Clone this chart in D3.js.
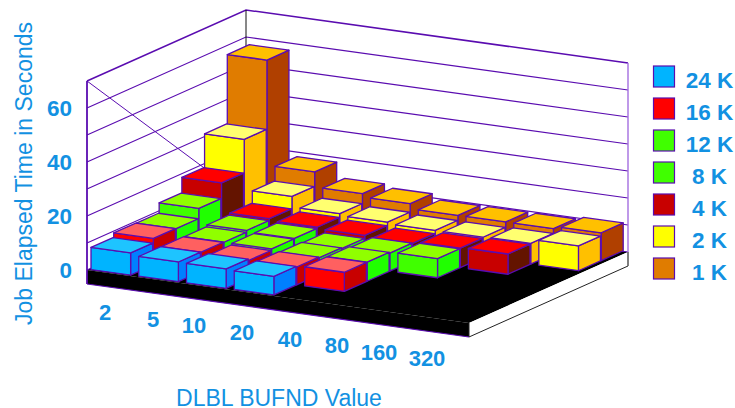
<!DOCTYPE html>
<html>
<head>
<meta charset="utf-8">
<script src="https://cdn.jsdelivr.net/npm/d3@7/dist/d3.min.js"></script>
<style>
html,body{margin:0;padding:0;background:#fff}
svg{display:block}
text{font-family:"Liberation Sans",Arial,sans-serif;fill:#1291e2}
</style>
</head>
<body>
<svg id="chart" width="735" height="408"></svg>
<script>
// Job elapsed time by DLBL BUFND value and buffer size
const bufndValues = ["2","5","10","20","40","80","160","320"];
const bufferSizes = ["24 K","16 K","12 K","8 K","4 K","2 K","1 K"];
const values24k = [7.7,6.8,6.7,6.4,null,null,null,null];
const values16k = [9.3,6.7,6.1,6.1,6.6,null,null,null];
const values12k = [9.2,6.6,6.6,5.8,6.6,null,null,null];
const values8k  = [12.9,7.2,6.7,5.5,6.2,6.6,null,null];
const values4k  = [18.6,7.8,7.1,6.5,6.0,6.7,7.0,null];
const values2k  = [31,12.3,8.4,7.7,7.1,7.0,7.2,8.7];
const values1k  = [56.6,17.6,12,10.8,8.9,8.9,8.9,9.8];
const seriesValues = [values24k,values16k,values12k,values8k,values4k,values2k,values1k];
const timeTicks = [0,20,40,60];
const gridTicks = [0,10,20,30,40,50,60,70];

const frontColors = ["#00b4ff","#ff0000","#40ff00","#40ff00","#c80000","#ffff00","#e07c00"];
const topColors   = ["#1ec4ff","#ff6060","#90ff00","#90ff00","#ff0000","#ffff70","#ffc000"];
const sideColors  = ["#0080ff","#c80000","#20ff00","#20ff00","#641400","#ffc000","#b04000"];
const edge = "#5a0cb0";

const svg = d3.select("#chart");

// Oblique projection: column axis, row axis and height axis are each linear on screen
const uX = d3.scaleLinear().domain([0,8]).range([0,382]);
const uY = d3.scaleLinear().domain([0,8]).range([0,53]);
const vX = d3.scaleLinear().domain([0,7]).range([0,159]);
const vY = d3.scaleLinear().domain([0,7]).range([0,-71]);
const zY = d3.scaleLinear().domain([0,70]).range([0,-189]);
const originX = 87, originY = 270;
const project = (u,v,z) => [originX+uX(u)+vX(v), originY+uY(u)+vY(v)+zY(z)];

const colBand = d3.scaleBand().domain(bufndValues).range([0,8]).paddingInner(0.17).paddingOuter(0.085).align(0);
const rowBand = d3.scaleBand().domain(bufferSizes).range([0.176,7.176]).paddingInner(0.03).paddingOuter(0.015).align(0);
const line = d3.line();
const poly = pts => line(pts)+"Z";

// Floor slab
const slab = 14;
const down = p => [p[0],p[1]+slab];
const fl = project(0,0,0), fr = project(8,0,0), br = project(8,7,0), bl = project(0,7,0);
svg.append("path").attr("d",poly([fl,fr,br,bl])).attr("fill","#000");
svg.append("path").attr("d",poly([fl,fr,down(fr),down(fl)])).attr("fill","#000");
svg.append("path").attr("d",poly([fr,br,down(br),down(fr)])).attr("fill","#fff");
svg.append("path").attr("d",line([fr,down(fr),down(br),br])).attr("fill","none").attr("stroke","#222").attr("stroke-width",1);
svg.append("path").attr("d",line([down(fl),down(fr)])).attr("fill","none").attr("stroke",edge).attr("stroke-width",1.2);

// Walls, gridlines and the wall diagonal
const grid = svg.append("g").attr("fill","none").attr("stroke",edge);
gridTicks.forEach(t => {
  grid.append("path").attr("d",line([project(0,0,t),project(0,7,t),project(8,7,t)]))
    .attr("stroke-width",t===70?1.5:1.1);
});
grid.append("path").attr("d",line([project(0,0,70),project(0,7,0)])).attr("stroke-width",1);
grid.append("path").attr("d",line([project(0,0,70),down(fl)])).attr("stroke-width",1.8);
grid.append("path").attr("d",line([project(8,7,70),br])).attr("stroke","#a46ee0").attr("stroke-width",1.4);
svg.append("path").attr("d",line([project(0,7,70),bl])).attr("fill","none").attr("stroke","#111").attr("stroke-width",1);
svg.append("path").attr("d",line([br,down(br)])).attr("fill","none").attr("stroke","#777").attr("stroke-width",1.4);

// Bars, painted from the back row forward and left to right; feet sit slightly into the slab
const barFoot = -0.5;
const bars = svg.append("g").attr("stroke",edge).attr("stroke-width",1.3).attr("stroke-linejoin","round");
d3.range(bufferSizes.length-1,-1,-1).forEach(s => {
  const v0 = rowBand(bufferSizes[s]), v1 = v0+rowBand.bandwidth();
  bufndValues.forEach((cat,i) => {
    const val = seriesValues[s][i];
    if (val === null) return;
    const u0 = colBand(cat), u1 = u0+colBand.bandwidth();
    const g = bars.append("g");
    g.append("path").attr("fill",sideColors[s]).attr("d",poly([project(u1,v0,barFoot),project(u1,v1,barFoot),project(u1,v1,val),project(u1,v0,val)]));
    g.append("path").attr("fill",frontColors[s]).attr("d",poly([project(u0,v0,barFoot),project(u1,v0,barFoot),project(u1,v0,val),project(u0,v0,val)]));
    g.append("path").attr("fill",topColors[s]).attr("d",poly([project(u0,v0,val),project(u1,v0,val),project(u1,v1,val),project(u0,v1,val)]));
  });
});

// Height axis labels
svg.append("g").selectAll("text").data(timeTicks).join("text")
  .attr("x",72).attr("y",d => project(0,0,d)[1]+7.8)
  .attr("text-anchor","end").attr("font-size",22.5).attr("font-weight","bold").text(d => d);

// Column labels
const catLabelX = [105,153,194,242,290,337,379,427];
svg.append("g").selectAll("text").data(bufndValues).join("text")
  .attr("x",(d,i) => catLabelX[i])
  .attr("y",(d,i) => project(colBand(d),0,0)[1]+50)
  .attr("text-anchor","middle").attr("font-size",22).attr("font-weight","bold").text(d => d);

// Axis titles
svg.append("text").attr("transform","translate(32,173.5) rotate(-90)")
  .attr("text-anchor","middle").attr("font-size",23).text("Job Elapsed Time in Seconds");
svg.append("text").attr("x",279).attr("y",406).attr("text-anchor","middle")
  .attr("font-size",23).text("DLBL BUFND Value");

// Legend
const legendY = d3.scalePoint().domain(bufferSizes).range([66,258]);
const legend = svg.append("g");
bufferSizes.forEach((name,s) => {
  legend.append("rect").attr("x",653.5).attr("y",legendY(name)).attr("width",21).attr("height",21)
    .attr("fill",frontColors[s]).attr("stroke",edge).attr("stroke-width",1.2);
  legend.append("text").attr("x",709.5).attr("y",legendY(name)+21.5).attr("text-anchor","middle")
    .attr("font-size",22.5).attr("font-weight","bold").text(name);
});
</script>
</body>
</html>
